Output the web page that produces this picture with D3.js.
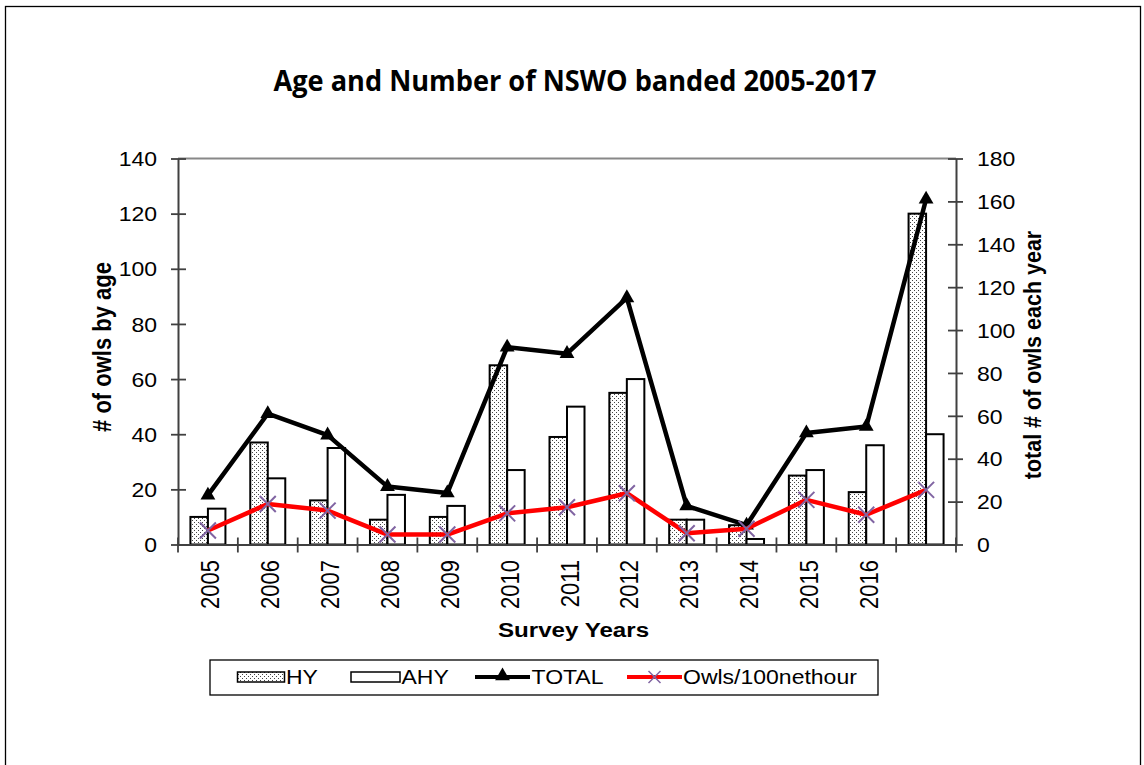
<!DOCTYPE html>
<html>
<head>
<meta charset="utf-8">
<script src="https://cdn.jsdelivr.net/npm/d3@7"></script>
<style>
  html, body { margin: 0; padding: 0; background: #fff; }
  svg { display: block; }
</style>
</head>
<body>
<script>
// ---------- data ----------
const years = ["2005","2006","2007","2008","2009","2010","2011","2012","2013","2014","2015","2016","2017"];
const yearLabels = ["2005","2006","2007","2008","2009","2010","2011","2012","2013","2014","2015","2016",""];
const hy    = [10, 37, 16, 9, 10, 65, 39, 55, 9, 7, 25, 19, 120];
const ahy   = [13, 24, 35, 18, 14, 27, 50, 60, 9, 2, 27, 36, 40];
const total = [23, 61, 51, 27, 24, 92, 89, 115, 18, 9, 52, 55, 161];
const owlsPer100 = [5.1, 14.7, 12.3, 3.6, 3.6, 11.3, 13.5, 18.6, 4.1, 5.7, 16.2, 10.8, 19.8];
const leftTicks  = [0, 20, 40, 60, 80, 100, 120, 140];
const rightTicks = [0, 20, 40, 60, 80, 100, 120, 140, 160, 180];
const titleText = "Age and Number of NSWO banded 2005-2017";
const leftTitle = "# of owls by age";
const rightTitle = "total # of owls each year";
const xTitle = "Survey Years";
const legendItems = ["HY", "AHY", "TOTAL", "Owls/100nethour"];

// ---------- layout ----------
const W = 1144, H = 765;
const SX = 1.15; // horizontal stretch of text in the reference
const plot = { left: 178, right: 956, top: 158.5, bottom: 544.5 };
const FONT = "'Liberation Sans', Arial, sans-serif";

const svg = d3.select("body").append("svg").attr("width", W).attr("height", H);

// pattern for HY
const defs = svg.append("defs");
const pat = defs.append("pattern").attr("id", "dots").attr("patternUnits", "userSpaceOnUse")
  .attr("width", 4).attr("height", 4);
pat.append("rect").attr("width", 4).attr("height", 4).attr("fill", "#fff");
pat.append("rect").attr("x", 0).attr("y", 0).attr("width", 1).attr("height", 1).attr("fill", "#444");
pat.append("rect").attr("x", 2).attr("y", 2).attr("width", 1).attr("height", 1).attr("fill", "#444");

// outer frame
svg.append("rect").attr("x", 5.5).attr("y", 6.5).attr("width", 1135).attr("height", 820)
  .attr("fill", "none").attr("stroke", "#000").attr("stroke-width", 1.3);

// title
svg.append("text").attr("x", 575).attr("y", 91)
  .attr("text-anchor", "middle")
  .attr("font-family", "'Open Sans', sans-serif").attr("font-weight", "bold").attr("font-size", 28)
  .attr("textLength", 603).attr("lengthAdjust", "spacingAndGlyphs")
  .text(titleText);

// scales
const x0 = d3.scaleBand().domain(years).range([plot.left, plot.right]).paddingInner(0).paddingOuter(0);
const barW = 17.5;
const x1 = d3.scaleBand().domain(["HY", "AHY"])
  .range([x0.bandwidth() / 2 - barW, x0.bandwidth() / 2 + barW]);
const yL = d3.scaleLinear().domain([0, 140]).range([plot.bottom, plot.top]);
const yR = d3.scaleLinear().domain([0, 180]).range([plot.bottom, plot.top]);
const cx = d => x0(d) + x0.bandwidth() / 2;

// plot top border
svg.append("line").attr("x1", plot.left).attr("x2", plot.right)
  .attr("y1", plot.top).attr("y2", plot.top)
  .attr("stroke", "#888").attr("stroke-width", 2);

// bars
const bars = svg.append("g");
years.forEach((yr, i) => {
  bars.append("rect")
    .attr("x", x0(yr) + x1("HY")).attr("width", x1.bandwidth())
    .attr("y", yL(hy[i])).attr("height", yL(0) - yL(hy[i]))
    .attr("fill", "url(#dots)").attr("stroke", "#000").attr("stroke-width", 2);
  bars.append("rect")
    .attr("x", x0(yr) + x1("AHY")).attr("width", x1.bandwidth())
    .attr("y", yL(ahy[i])).attr("height", yL(0) - yL(ahy[i]))
    .attr("fill", "#fff").attr("stroke", "#000").attr("stroke-width", 2);
});

// axes
const axisColor = "#404040";
function styleTickText(sel, dx) {
  sel.selectAll("text")
    .attr("x", 0).attr("dy", "0.36em")
    .attr("font-family", FONT).attr("font-size", 20).attr("fill", "#000")
    .attr("transform", `translate(${dx},0) scale(${SX},1)`);
}
const gL = svg.append("g").attr("transform", `translate(${plot.left},0)`)
  .call(d3.axisLeft(yL).tickValues(leftTicks).tickSize(0).tickPadding(21));
gL.select(".domain").attr("stroke", axisColor).attr("stroke-width", 2);
gL.selectAll(".tick").append("line").attr("x1", -7).attr("x2", 8)
  .attr("stroke", axisColor).attr("stroke-width", 1.8);
styleTickText(gL, -21);

const gR = svg.append("g").attr("transform", `translate(${plot.right},0)`)
  .call(d3.axisRight(yR).tickValues(rightTicks).tickSize(0).tickPadding(21));
gR.select(".domain").attr("stroke", axisColor).attr("stroke-width", 2);
gR.selectAll(".tick").append("line").attr("x1", -8).attr("x2", 7)
  .attr("stroke", axisColor).attr("stroke-width", 1.8);
styleTickText(gR, 21);

const gX = svg.append("g").attr("transform", `translate(0,${plot.bottom})`)
  .call(d3.axisBottom(x0).tickFormat((d, i) => yearLabels[i]).tickSize(0));
gX.select(".domain").attr("stroke", axisColor).attr("stroke-width", 2);
gX.selectAll(".tick text")
  .attr("x", 0).attr("y", 0).attr("dy", 0)
  .attr("text-anchor", "end")
  .attr("font-family", FONT).attr("font-size", 22).attr("fill", "#000")
  .attr("transform", `translate(11.5,15.5) scale(${SX},1) rotate(-90)`);
// category boundary ticks
const bounds = years.map(d => x0(d)).concat([plot.right]);
gX.selectAll(".btick").data(bounds).enter().append("line")
  .attr("x1", d => d).attr("x2", d => d).attr("y1", -7).attr("y2", 8)
  .attr("stroke", axisColor).attr("stroke-width", 1.8);

// TOTAL line
const lineT = d3.line().x((d, i) => cx(years[i])).y(d => yR(d));
svg.append("path").datum(total).attr("d", lineT)
  .attr("fill", "none").attr("stroke", "#000").attr("stroke-width", 4.5).attr("stroke-linejoin", "round");
const tri = d3.symbol().type(d3.symbolTriangle).size(95);
svg.append("g").selectAll("path").data(total).enter().append("path")
  .attr("d", tri).attr("transform", (d, i) => `translate(${cx(years[i])},${yR(d)})`)
  .attr("fill", "#000");

// Owls/100 net hour line (left axis)
const lineO = d3.line().x((d, i) => cx(years[i])).y(d => yL(d));
svg.append("path").datum(owlsPer100).attr("d", lineO)
  .attr("fill", "none").attr("stroke", "#ff0000").attr("stroke-width", 4.5).attr("stroke-linejoin", "round");
const xm = svg.append("g");
owlsPer100.forEach((v, i) => {
  const px = cx(years[i]), py = yL(v), s = 8;
  xm.append("path").attr("d", `M${px - s},${py - s}L${px + s},${py + s}M${px - s},${py + s}L${px + s},${py - s}`)
    .attr("stroke", "#8064a2").attr("stroke-width", 2).attr("fill", "none");
});

// axis titles
function stretchedText(x, y, txt, size, weight, rotate) {
  return svg.append("text")
    .attr("transform", `translate(${x},${y}) scale(${SX},1)` + (rotate ? ` rotate(${rotate})` : ""))
    .attr("text-anchor", "middle")
    .attr("font-family", FONT).attr("font-size", size).attr("font-weight", weight).attr("fill", "#000")
    .text(txt);
}
stretchedText(111, 347, leftTitle, 22, "bold", -90);
stretchedText(1041, 355, rightTitle, 21.5, "bold", -90);
stretchedText(573.5, 636.5, xTitle, 21, "bold", 0);

// legend
const lg = svg.append("g");
lg.append("rect").attr("x", 210).attr("y", 660).attr("width", 668).attr("height", 35)
  .attr("fill", "#fff").attr("stroke", "#000").attr("stroke-width", 1.3);
const ly = 677;
lg.append("rect").attr("x", 237.5).attr("y", 672).attr("width", 47).attr("height", 10)
  .attr("fill", "url(#dots)").attr("stroke", "#000").attr("stroke-width", 1.5);
lg.append("rect").attr("x", 351).attr("y", 672).attr("width", 49).attr("height", 10)
  .attr("fill", "#fff").attr("stroke", "#000").attr("stroke-width", 1.5);
lg.append("line").attr("x1", 475).attr("x2", 530).attr("y1", ly).attr("y2", ly)
  .attr("stroke", "#000").attr("stroke-width", 4);
lg.append("path").attr("d", tri).attr("transform", `translate(502.5,${ly - 1})`).attr("fill", "#000");
lg.append("line").attr("x1", 627).attr("x2", 682).attr("y1", ly).attr("y2", ly)
  .attr("stroke", "#ff0000").attr("stroke-width", 4);
lg.append("path").attr("d", `M${654.5 - 6},${ly - 6}L${654.5 + 6},${ly + 6}M${654.5 - 6},${ly + 6}L${654.5 + 6},${ly - 6}`)
  .attr("stroke", "#8064a2").attr("stroke-width", 1.5);
const legX = [286, 401.5, 531.5, 683];
legendItems.forEach((t, i) => {
  lg.append("text")
    .attr("transform", `translate(${legX[i]},684) scale(${SX},1)`)
    .attr("font-family", FONT).attr("font-size", 20).attr("fill", "#000")
    .text(t);
});
</script>
</body>
</html>
